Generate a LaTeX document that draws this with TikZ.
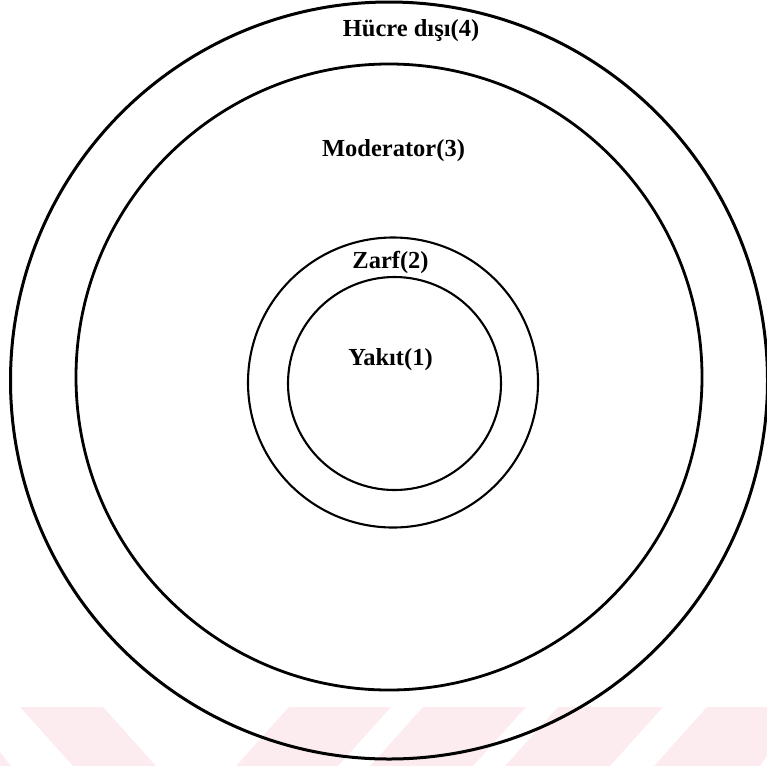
\documentclass[tikz,border=0pt]{standalone}
\usepackage{fontspec}
\setmainfont{Liberation Serif}
\definecolor{wmpink}{RGB}{253,236,239}
\begin{document}
\begin{tikzpicture}[x=1pt,y=-1pt,
  ring/.style={circle,draw=black,inner sep=0pt,outer sep=0pt},
  lbl/.style={anchor=base,inner sep=0pt,font=\fontsize{24.5}{29}\selectfont\bfseries},
  wm/.style={fill=wmpink,draw=none}]
\useasboundingbox (0,0) rectangle (767,766);
\clip (0,0) rectangle (767,766);
% faint watermark
\fill[wm] (20,707) -- (103,707) -- (156,766) -- (73,766) -- cycle;
\fill[wm] (289,707) -- (391,707) -- (338,766) -- (236,766) -- cycle;
\fill[wm] (423,707) -- (526,707) -- (473,766) -- (370,766) -- cycle;
\fill[wm] (558,707) -- (663,707) -- (610,766) -- (505,766) -- cycle;
\fill[wm] (707,707) -- (800,707) -- (760,766) -- (654,766) -- cycle;
\fill[wm] (0,752) -- (0,766) -- (11,766) -- cycle;
% rings
\node[ring,line width=3pt,minimum size=757pt] (outer) at (389,380.5) {};
\node[ring,line width=2.8pt,minimum size=626pt] (moderator) at (389,377) {};
\node[ring,line width=2.1pt,minimum size=290pt] (zarf) at (393,382.5) {};
\node[ring,line width=2.1pt,minimum size=213pt] (yakit) at (394.5,383.5) {};
% labels
\node[lbl] (t4) at (411,36) {Hücre dışı(4)};
\node[lbl] (t3) at (393.5,156) {Moderator(3)};
\node[lbl] (t2) at (390.5,268) {Zarf(2)};
\node[lbl] (t1) at (390.5,365) {Yakıt(1)};
\end{tikzpicture}
\end{document}
